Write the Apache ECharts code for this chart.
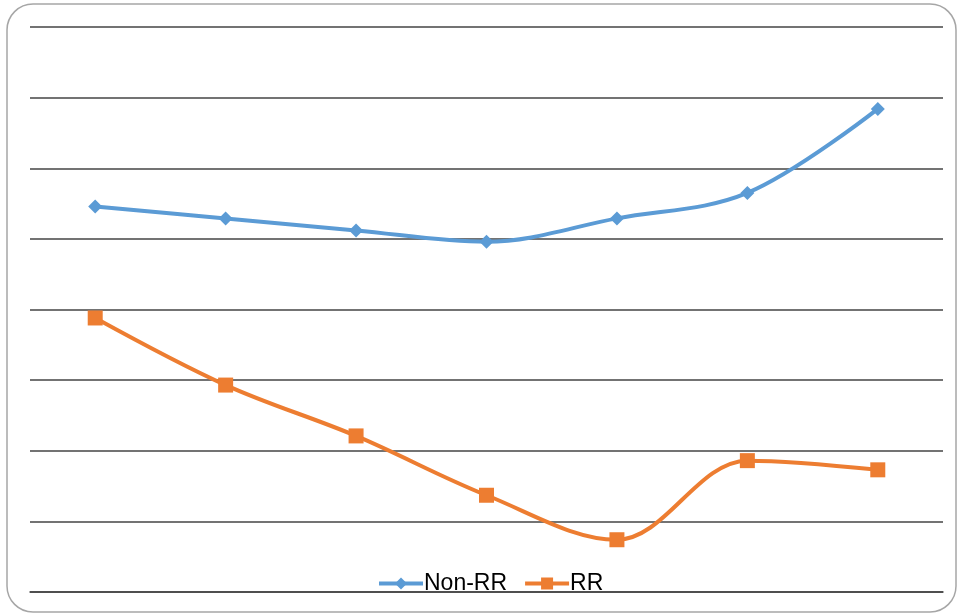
<!DOCTYPE html>
<html>
<head>
<meta charset="utf-8">
<script src="https://cdn.jsdelivr.net/npm/echarts@6/dist/echarts.min.js"></script>
<style>
  html, body { margin: 0; padding: 0; background: #fff; }
  #chart { width: 960px; height: 616px; }
</style>
</head>
<body>
<div id="chart"></div>
<script>
// Seven sampling points along the horizontal axis
const categories = ['1', '2', '3', '4', '5', '6', '7'];
const nonRR = [5.46, 5.29, 5.12, 4.96, 5.29, 5.65, 6.84];
const rr = [3.88, 2.93, 2.21, 1.37, 0.74, 1.86, 1.73];

const chart = echarts.init(document.getElementById('chart'));
chart.setOption({
  animation: false,
  backgroundColor: '#fff',
  graphic: [{
    type: 'rect',
    shape: { x: 7, y: 4, width: 949, height: 608, r: 26 },
    style: { fill: 'none', stroke: '#a6a6a6', lineWidth: 1.5 },
    z: -1
  }],
  grid: { left: 30, right: 17, top: 27, bottom: 24 },
  legend: {
    bottom: 16,
    left: 372,
    itemWidth: 44,
    itemHeight: 15,
    itemGap: 16,
    lineStyle: { width: 4 },
    textStyle: { fontFamily: 'Liberation Sans, Arial, sans-serif', fontSize: 23, color: '#000', padding: [0, 0, 0, -4] },
    data: ['Non-RR', 'RR']
  },
  xAxis: {
    type: 'category',
    data: categories,
    boundaryGap: true,
    axisLine: { show: true, lineStyle: { color: '#444', width: 1.5 } },
    axisTick: { show: false },
    axisLabel: { show: false }
  },
  yAxis: {
    type: 'value',
    min: 0,
    max: 8,
    interval: 1,
    axisLine: { show: false },
    axisTick: { show: false },
    axisLabel: { show: false },
    splitLine: { lineStyle: { color: '#444', width: 1.5 } }
  },
  series: [
    {
      name: 'Non-RR',
      type: 'line',
      data: nonRR,
      smooth: 0.35,
      symbol: 'diamond',
      symbolSize: 14,
      lineStyle: { color: '#5B9BD5', width: 4 },
      itemStyle: { color: '#5B9BD5' }
    },
    {
      name: 'RR',
      type: 'line',
      data: rr,
      smooth: 0.35,
      symbol: 'rect',
      symbolSize: 15,
      lineStyle: { color: '#ED7D31', width: 4 },
      itemStyle: { color: '#ED7D31' }
    }
  ]
});
</script>
</body>
</html>
